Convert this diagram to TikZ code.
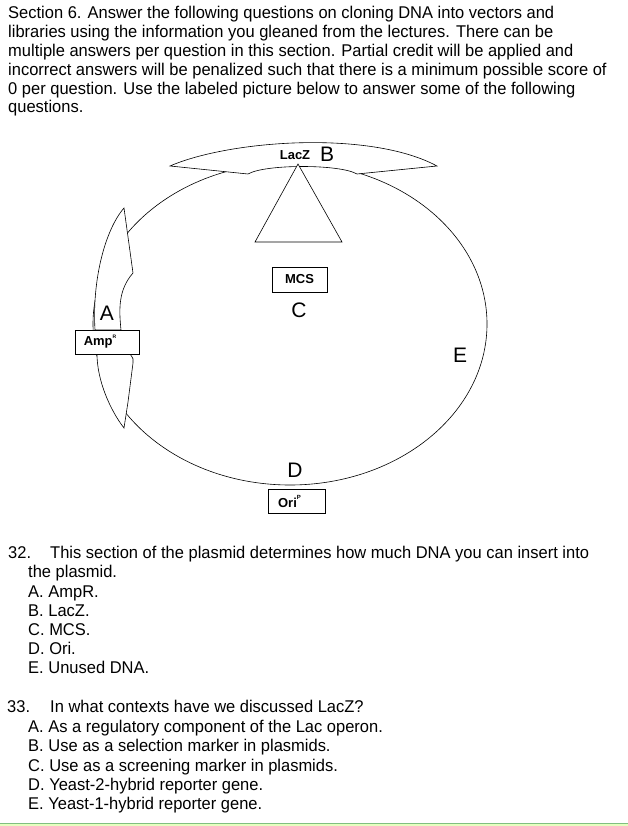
\documentclass[tikz,border=0pt]{standalone}
\usepackage{fontspec}
\setmainfont{Liberation Sans}
\usepackage{graphicx}
\begin{document}
\begin{tikzpicture}[x=1pt,y=-1pt,
  txt/.style={anchor=base west,inner sep=0pt,font=\fontsize{17}{19}\selectfont},
  lbl/.style={inner sep=0pt,font=\fontsize{21}{24}\selectfont},
  boxlbl/.style={draw,thick,minimum height=24pt,inner sep=0pt,font=\bfseries\fontsize{13}{14}\selectfont},
  shp/.style={draw,line width=0.6pt,fill=white}]
\useasboundingbox (0,0) rectangle (628,826);
\fill[green!40!yellow!25] (0,823) rectangle (628,826);
\draw[green!50!black!50,line width=0.8pt] (0,823) -- (628,823);
\newcommand{\myln}[3]{\node[txt] at (#1,#2) {\scalebox{0.97}[1]{#3}};}
\myln{8}{19}{Section 6. Answer the following questions on cloning DNA into vectors and}
\myln{8}{38}{libraries using the information you gleaned from the lectures. There can be}
\myln{8}{57}{multiple answers per question in this section. Partial credit will be applied and}
\myln{8}{76}{incorrect answers will be penalized such that there is a minimum possible score of}
\myln{8}{95}{0 per question. Use the labeled picture below to answer some of the following}
\myln{8}{113}{questions.}
% plasmid
\draw[line width=0.6pt] (290,324) ellipse [x radius=197, y radius=161];
% LacZ arrow
\draw[shp] (170,166) .. controls (230,140) and (370,130) .. (437,166)
  -- (357,174) .. controls (340,164) and (265,164) .. (248,174) -- cycle;
\node[inner sep=0pt,font=\bfseries\fontsize{13}{14}\selectfont] (lacz) at (295,155) {LacZ};
\node[lbl] (B) at (327,154) {B};
\draw[shp] (298,164) -- (255,242) -- (342,242) -- cycle;
% Amp arrow
\draw[shp] (124,208) -- (133,273) .. controls (118,290) and (119,310) .. (121,330)
  -- (95,330) .. controls (92,280) and (105,230) .. (124,208) -- cycle;
\draw[shp] (97,354) -- (130,354) .. controls (133,358) and (134,360) .. (133,363)
  -- (128,402) -- (124,428) .. controls (110,410) and (97,380) .. (97,354) -- cycle;
\node[boxlbl,minimum width=64pt,fill=white] (amp) at (107,342) {\hspace*{-14pt}\raisebox{-2pt}{Amp}\raisebox{5pt}{\fontsize{5}{6}\selectfont R}};
\node[lbl] (A) at (107,313) {A};
\node[boxlbl,minimum width=55pt,minimum height=25pt,fill=white] (mcs) at (299.5,279.5) {MCS};
\node[lbl] (C) at (299,310) {C};
\node[lbl] (E) at (460,355) {E};
\node[lbl] (D) at (295,470) {D};
\node[boxlbl,minimum width=57pt,fill=white] (ori) at (296.5,501) {\hspace*{-14pt}\raisebox{-3pt}{Ori}\raisebox{5pt}{\fontsize{6}{7}\selectfont P}};
% questions
\myln{8}{558}{32.}
\myln{50}{558}{This section of the plasmid determines how much DNA you can insert into}
\myln{28}{577}{the plasmid.}
\myln{28}{597}{A. AmpR.}
\myln{28}{616}{B. LacZ.}
\myln{28}{635}{C. MCS.}
\myln{28}{654}{D. Ori.}
\myln{28}{673}{E. Unused DNA.}
\myln{7}{712}{33.}
\myln{50}{712}{In what contexts have we discussed LacZ?}
\myln{28}{732}{A. As a regulatory component of the Lac operon.}
\myln{28}{751}{B. Use as a selection marker in plasmids.}
\myln{28}{771}{C. Use as a screening marker in plasmids.}
\myln{28}{790}{D. Yeast-2-hybrid reporter gene.}
\myln{28}{809}{E. Yeast-1-hybrid reporter gene.}
\end{tikzpicture}
\end{document}
